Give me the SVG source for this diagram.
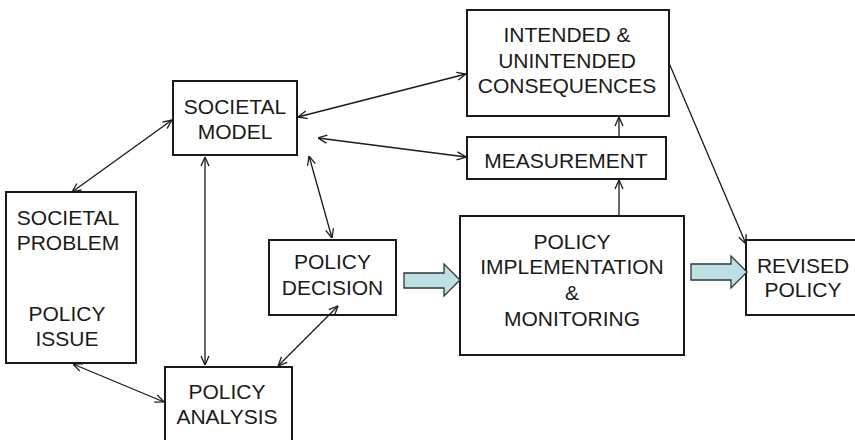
<svg xmlns="http://www.w3.org/2000/svg" width="855" height="440" viewBox="0 0 855 440">
<style>
.box{fill:#fff;stroke:#1a1a1a;stroke-width:2}
.t{font-family:"Liberation Sans",Arial,sans-serif;font-size:21px;fill:#1a1a1a;text-anchor:middle}
.c{fill:none;stroke:#1a1a1a;stroke-width:1.3}
.big{fill:#bde0e4;stroke:#333;stroke-width:1.3;stroke-linejoin:miter}
</style>
<defs>
<marker id="a" viewBox="0 0 10 10" refX="10" refY="5" markerWidth="10" markerHeight="10" markerUnits="userSpaceOnUse" orient="auto-start-reverse">
<path d="M1,1 L10,5 L1,9" fill="none" stroke="#1a1a1a" stroke-width="1.3"/>
</marker>
</defs>
<rect width="855" height="440" fill="#fff"/>
<g id="societal-model">
<rect class="box" x="173" y="81" width="124" height="74"/>
<text class="t" x="235" y="114">SOCIETAL</text>
<text class="t" x="235" y="139">MODEL</text>
</g>
<g id="consequences">
<rect class="box" x="467" y="10" width="202" height="106"/>
<text class="t" x="567" y="42">INTENDED &amp;</text>
<text class="t" x="567" y="68">UNINTENDED</text>
<text class="t" x="567" y="93">CONSEQUENCES</text>
</g>
<g id="measurement">
<rect class="box" x="467" y="137" width="199" height="42"/>
<text class="t" x="566" y="168">MEASUREMENT</text>
</g>
<g id="societal-problem">
<rect class="box" x="6" y="192" width="130" height="171"/>
<text class="t" x="68" y="225">SOCIETAL</text>
<text class="t" x="68" y="250">PROBLEM</text>
<text class="t" x="67" y="321">POLICY</text>
<text class="t" x="67" y="346">ISSUE</text>
</g>
<g id="policy-decision">
<rect class="box" x="269" y="240" width="127" height="75"/>
<text class="t" x="332.5" y="269">POLICY</text>
<text class="t" x="332.5" y="295">DECISION</text>
</g>
<g id="policy-implementation">
<rect class="box" x="460" y="216" width="224" height="139"/>
<text class="t" x="572" y="249">POLICY</text>
<text class="t" x="572" y="274">IMPLEMENTATION</text>
<text class="t" x="572" y="300">&amp;</text>
<text class="t" x="572" y="326">MONITORING</text>
</g>
<g id="revised-policy">
<rect class="box" x="746" y="240" width="112" height="75"/>
<text class="t" x="803" y="273">REVISED</text>
<text class="t" x="803" y="297">POLICY</text>
</g>
<g id="policy-analysis">
<rect class="box" x="165" y="367" width="127" height="80"/>
<text class="t" x="227" y="399">POLICY</text>
<text class="t" x="227" y="424">ANALYSIS</text>
</g>
<g id="connectors">
<line class="c" x1="172" y1="120" x2="72" y2="192" marker-start="url(#a)" marker-end="url(#a)"/>
<line class="c" x1="298" y1="117" x2="466" y2="74" marker-start="url(#a)" marker-end="url(#a)"/>
<line class="c" x1="318" y1="138" x2="466" y2="157" marker-start="url(#a)" marker-end="url(#a)"/>
<line class="c" x1="309" y1="156" x2="332" y2="238" marker-start="url(#a)" marker-end="url(#a)"/>
<line class="c" x1="205" y1="157" x2="205" y2="365" marker-start="url(#a)" marker-end="url(#a)"/>
<line class="c" x1="73" y1="364" x2="164" y2="402" marker-start="url(#a)" marker-end="url(#a)"/>
<line class="c" x1="278" y1="366" x2="338" y2="306" marker-start="url(#a)" marker-end="url(#a)"/>
<line class="c" x1="619" y1="216" x2="619" y2="180" marker-end="url(#a)"/>
<line class="c" x1="619" y1="137" x2="619" y2="117" marker-end="url(#a)"/>
<line class="c" x1="669" y1="63" x2="746" y2="244" marker-end="url(#a)"/>
<path class="big" d="M404,273 L444,273 L444,264 L460,280 L444,296 L444,288 L404,288 Z"/>
<path class="big" d="M691,264 L731,264 L731,256 L747,272 L731,288 L731,280 L691,280 Z"/>
</g>
</svg>
